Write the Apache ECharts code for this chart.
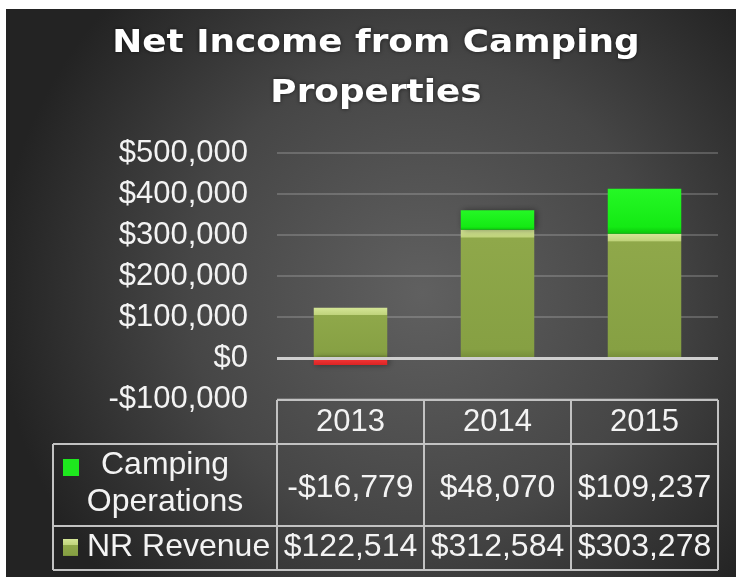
<!DOCTYPE html>
<html>
<head>
<meta charset="utf-8">
<script src="https://cdn.jsdelivr.net/npm/echarts@6/dist/echarts.min.js"></script>
<style>
  html, body { margin: 0; padding: 0; background: #fff; }
  #main { width: 736px; height: 577px; }
</style>
</head>
<body>
<div id="main"></div>
<script>
// data
var years = ['2013', '2014', '2015'];
var campingOps = [-16779, 48070, 109237];
var nrRevenue = [122514, 312584, 303278];
var seriesNames = ['Camping Operations', 'NR Revenue'];
var yMin = -100000, yMax = 500000, yStep = 100000;

var FONT = '"Liberation Sans", Arial, sans-serif';
var TXT = '#f3f3f3';
var RULE = '#c2c2c2';

function money(v) {
  return (v < 0 ? '-' : '') + '$' + Math.abs(v).toLocaleString('en-US');
}

function oliveFill(topPx) {
  // bevelled olive face: light top band, flat body, a bit darker at the foot
  return new echarts.graphic.LinearGradient(0, 0, 0, 1, [
    { offset: 0, color: '#d4e596' },
    { offset: topPx, color: '#c0d47c' },
    { offset: Math.min(topPx + 0.01, 1), color: '#8fa84a' },
    { offset: 0.93, color: '#86a043' },
    { offset: 1, color: '#758d39' }
  ]);
}

var chart = echarts.init(document.getElementById('main'));

chart.setOption({
  backgroundColor: '#ffffff',
  animation: false,
  grid: { left: 277, right: 18, top: 153, bottom: 178 },
  xAxis: {
    type: 'category',
    data: years,
    axisLine: { show: false, onZero: false },
    axisTick: { show: false },
    axisLabel: { color: TXT, fontFamily: FONT, fontSize: 31, margin: 8 }
  },
  yAxis: {
    type: 'value',
    min: yMin,
    max: yMax,
    interval: yStep,
    axisLine: { show: false },
    axisTick: { show: false },
    axisLabel: {
      color: TXT, fontFamily: FONT, fontSize: 31, margin: 29,
      formatter: function (v) { return money(v); }
    },
    splitLine: { lineStyle: { color: 'rgba(210,210,210,0.32)', width: 1.5 } }
  },
  series: [
    {
      name: seriesNames[1],
      type: 'bar',
      stack: 'total',
      barWidth: '50%',
      data: nrRevenue,
      itemStyle: {
        color: '#86a043',
        shadowBlur: 6, shadowColor: 'rgba(0,0,0,0.45)', shadowOffsetX: 2
      },
      markLine: {
        silent: true,
        symbol: 'none',
        label: { show: false },
        lineStyle: { color: '#cfcfcf', width: 3, type: 'solid' },
        data: [{ yAxis: 0 }]
      }
    },
    {
      name: seriesNames[0],
      type: 'bar',
      stack: 'total',
      barWidth: '50%',
      data: campingOps,
      itemStyle: {
        color: function (p) {
          if (p.value < 0) {
            return new echarts.graphic.LinearGradient(0, 0, 0, 1, [
              { offset: 0, color: '#f63a3a' }, { offset: 1, color: '#dc2424' }
            ]);
          }
          return new echarts.graphic.LinearGradient(0, 0, 0, 1, [
            { offset: 0, color: '#25f825' }, { offset: 0.85, color: '#14ea14' },
            { offset: 1, color: '#0bc50b' }
          ]);
        },
        shadowBlur: 6, shadowColor: 'rgba(0,0,0,0.45)', shadowOffsetX: 2
      }
    }
  ]
});

// bevel height in pixels -> gradient offset per bar
var zeroY = chart.convertToPixel({ yAxisIndex: 0 }, 0);
chart.setOption({
  series: [{
    data: nrRevenue.map(function (v) {
      var h = zeroY - chart.convertToPixel({ yAxisIndex: 0 }, v);
      return { value: v, itemStyle: { color: oliveFill(7 / h) } };
    })
  }]
});

// data table under the plot, columns follow the category axis
var cx = years.map(function (y) { return chart.convertToPixel({ xAxisIndex: 0 }, y); });
var band = cx[1] - cx[0];
var colL = cx[0] - band / 2, colR = cx[cx.length - 1] + band / 2;
var tableL = 53, rowTop = 400, row1 = 444, row2 = 526, rowBot = 570;

var els = [];
els.push({
  type: 'rect', z: -100, silent: true,
  shape: { x: 6, y: 9, width: 730, height: 568 },
  style: { fill: new echarts.graphic.RadialGradient(0.57, 0.5, 0.75, [
    { offset: 0, color: '#606060' }, { offset: 0.55, color: '#464646' }, { offset: 1, color: '#232323' }
  ]) }
});

function hline(x1, x2, y) {
  els.push({ type: 'line', z: 50, shape: { x1: x1, y1: y, x2: x2, y2: y }, style: { stroke: RULE, lineWidth: 2 } });
}
function vline(x, y1, y2) {
  els.push({ type: 'line', z: 50, shape: { x1: x, y1: y1, x2: x, y2: y2 }, style: { stroke: RULE, lineWidth: 2 } });
}
hline(colL, colR, rowTop);
hline(tableL, colR, row1);
hline(tableL, colR, row2);
hline(tableL, colR, rowBot);
vline(tableL, row1, rowBot);
vline(colL, rowTop, rowBot);
cx.forEach(function (x) { vline(x + band / 2, rowTop, rowBot); });

function txt(s, x, y, size, align) {
  els.push({
    type: 'text', z: 60, x: x, y: y,
    style: { text: s, fill: TXT, font: size + 'px ' + FONT, textAlign: align || 'center', textVerticalAlign: 'middle' }
  });
}

cx.forEach(function (x, i) {
  txt(money(campingOps[i]), x, 488, 32);
  txt(money(nrRevenue[i]), x, 547, 32);
});

// row headers with legend keys
txt('Camping', 165, 465, 32);
txt('Operations', 165, 502, 32);
txt(seriesNames[1], 87, 547, 32, 'left');
els.push({ type: 'rect', z: 60, shape: { x: 63, y: 459, width: 16, height: 17 }, style: { fill: '#1ee81e' } });
els.push({ type: 'rect', z: 60, shape: { x: 63, y: 539, width: 15, height: 17 }, style: { fill: oliveFill(0.35) } });

// title
['Net Income from Camping', 'Properties'].forEach(function (line, i) {
  els.push({
    type: 'text', z: 60, x: 376, y: 44 + i * 50, scaleX: 1.12,
    style: {
      text: line, fill: '#ffffff', font: 'bold 32px "DejaVu Sans", sans-serif',
      textAlign: 'center', textVerticalAlign: 'middle',
      textShadowColor: 'rgba(0,0,0,0.6)', textShadowBlur: 4
    }
  });
});

chart.setOption({ graphic: { elements: els } });
</script>
</body>
</html>
